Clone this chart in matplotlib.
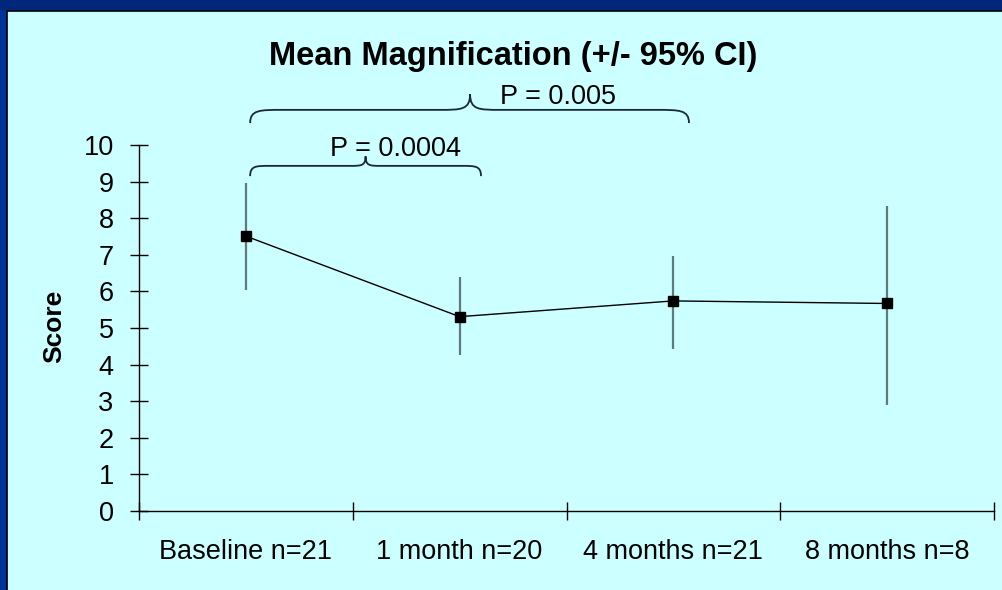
import matplotlib
matplotlib.use("Agg")
from matplotlib import pyplot as plt
from matplotlib.path import Path
from matplotlib.patches import PathPatch, Rectangle
import numpy as np

plt.rcParams['font.family'] = ['Liberation Sans', 'DejaVu Sans']

categories = ["Baseline n=21", "1 month n=20", "4 months n=21", "8 months n=8"]
means = [7.51, 5.31, 5.74, 5.67]
ci_upper = [8.95, 6.39, 6.97, 8.34]
ci_lower = [6.04, 4.27, 4.43, 2.90]
p_labels = ["P = 0.0004", "P = 0.005"]
yticks = list(range(0, 11))

W, H = 1002, 590
fig = plt.figure(figsize=(W / 100, H / 100), dpi=100)
fig.patch.set_facecolor("#003399")
# darker top strip + light panel
fig.patches.append(Rectangle((0, 1 - 10 / H), 1, 10 / H, transform=fig.transFigure,
                             facecolor="#00277A", edgecolor="none", zorder=-6))
fig.patches.append(Rectangle((7 / W, -0.01), 1 - 7 / W + 0.01, 1 - 11 / H + 0.01, transform=fig.transFigure,
                             facecolor="#CCFFFF", edgecolor="black", linewidth=1.2, zorder=-5))

ax = fig.add_axes([139 / W, 79 / H, 855 / W, 366 / H])
ax.set_facecolor("none")
ax.set_zorder(1)

x = np.arange(len(categories)) + 0.5
m = np.array(means)
yerr = [m - np.array(ci_lower), np.array(ci_upper) - m]
ax.errorbar(x, m, yerr=yerr, fmt="none", ecolor="#5F7A7A", elinewidth=1.6, capsize=0, zorder=2)
ax.plot(x, m, color="black", linewidth=1.0, marker="s", markersize=6.5,
        markerfacecolor="black", markeredgecolor="black", zorder=3)

ax.set_xlim(0, len(categories))
ax.set_ylim(0, 10)
ax.set_yticks(yticks)
ax.set_xticks(np.arange(len(categories) + 1))
ax.set_xticklabels([])
ax.set_xticks(x, minor=True)
ax.set_xticklabels(categories, minor=True, fontsize=19.5)
ax.tick_params(axis="x", which="major", direction="inout", length=12.5, width=1.0)
ax.tick_params(axis="x", which="minor", length=0, pad=20)
ax.tick_params(axis="y", direction="inout", length=12.5, width=1.0, labelsize=19.5, pad=12)
for s in ["top", "right"]:
    ax.spines[s].set_visible(False)
for s in ["left", "bottom"]:
    ax.spines[s].set_linewidth(1.0)


def brace(x0, x1, xp, y_tip, y_bar, y_peak, cw, pw):
    verts = [(x0, y_tip), (x0, y_bar), (x0 + cw * 0.3, y_bar), (x0 + cw, y_bar),
             (xp - pw, y_bar),
             (xp - pw * 0.3, y_bar), (xp, y_bar), (xp, y_peak),
             (xp, y_bar), (xp + pw * 0.3, y_bar), (xp + pw, y_bar),
             (x1 - cw, y_bar),
             (x1 - cw * 0.3, y_bar), (x1, y_bar), (x1, y_tip)]
    codes = [Path.MOVETO, Path.CURVE4, Path.CURVE4, Path.CURVE4,
             Path.LINETO,
             Path.CURVE4, Path.CURVE4, Path.CURVE4,
             Path.CURVE4, Path.CURVE4, Path.CURVE4,
             Path.LINETO,
             Path.CURVE4, Path.CURVE4, Path.CURVE4]
    ax.add_patch(PathPatch(Path(verts, codes), facecolor="none", edgecolor="#1A2838",
                           linewidth=1.3, clip_on=False, zorder=4))


brace(0.52, 1.60, 1.06, 9.15, 9.43, 9.69, 0.09, 0.07)
ax.text(1.20, 9.89, p_labels[0], fontsize=19.5, ha="center", va="center", clip_on=False)
brace(0.52, 2.573, 1.549, 10.60, 10.96, 11.39, 0.15, 0.14)
ax.text(1.96, 11.30, p_labels[1], fontsize=19.5, ha="center", va="center", clip_on=False)

fig.text(513 / W, 1 - 57 / H, "Mean Magnification (+/- 95% CI)", fontsize=23.5,
         fontweight="bold", ha="center", va="center")
fig.text(54 / W, 1 - 326 / H, "Score", fontsize=19, fontweight="bold",
         rotation=90, ha="center", va="center")

fig.savefig("out.png", dpi=100, facecolor=fig.get_facecolor())
